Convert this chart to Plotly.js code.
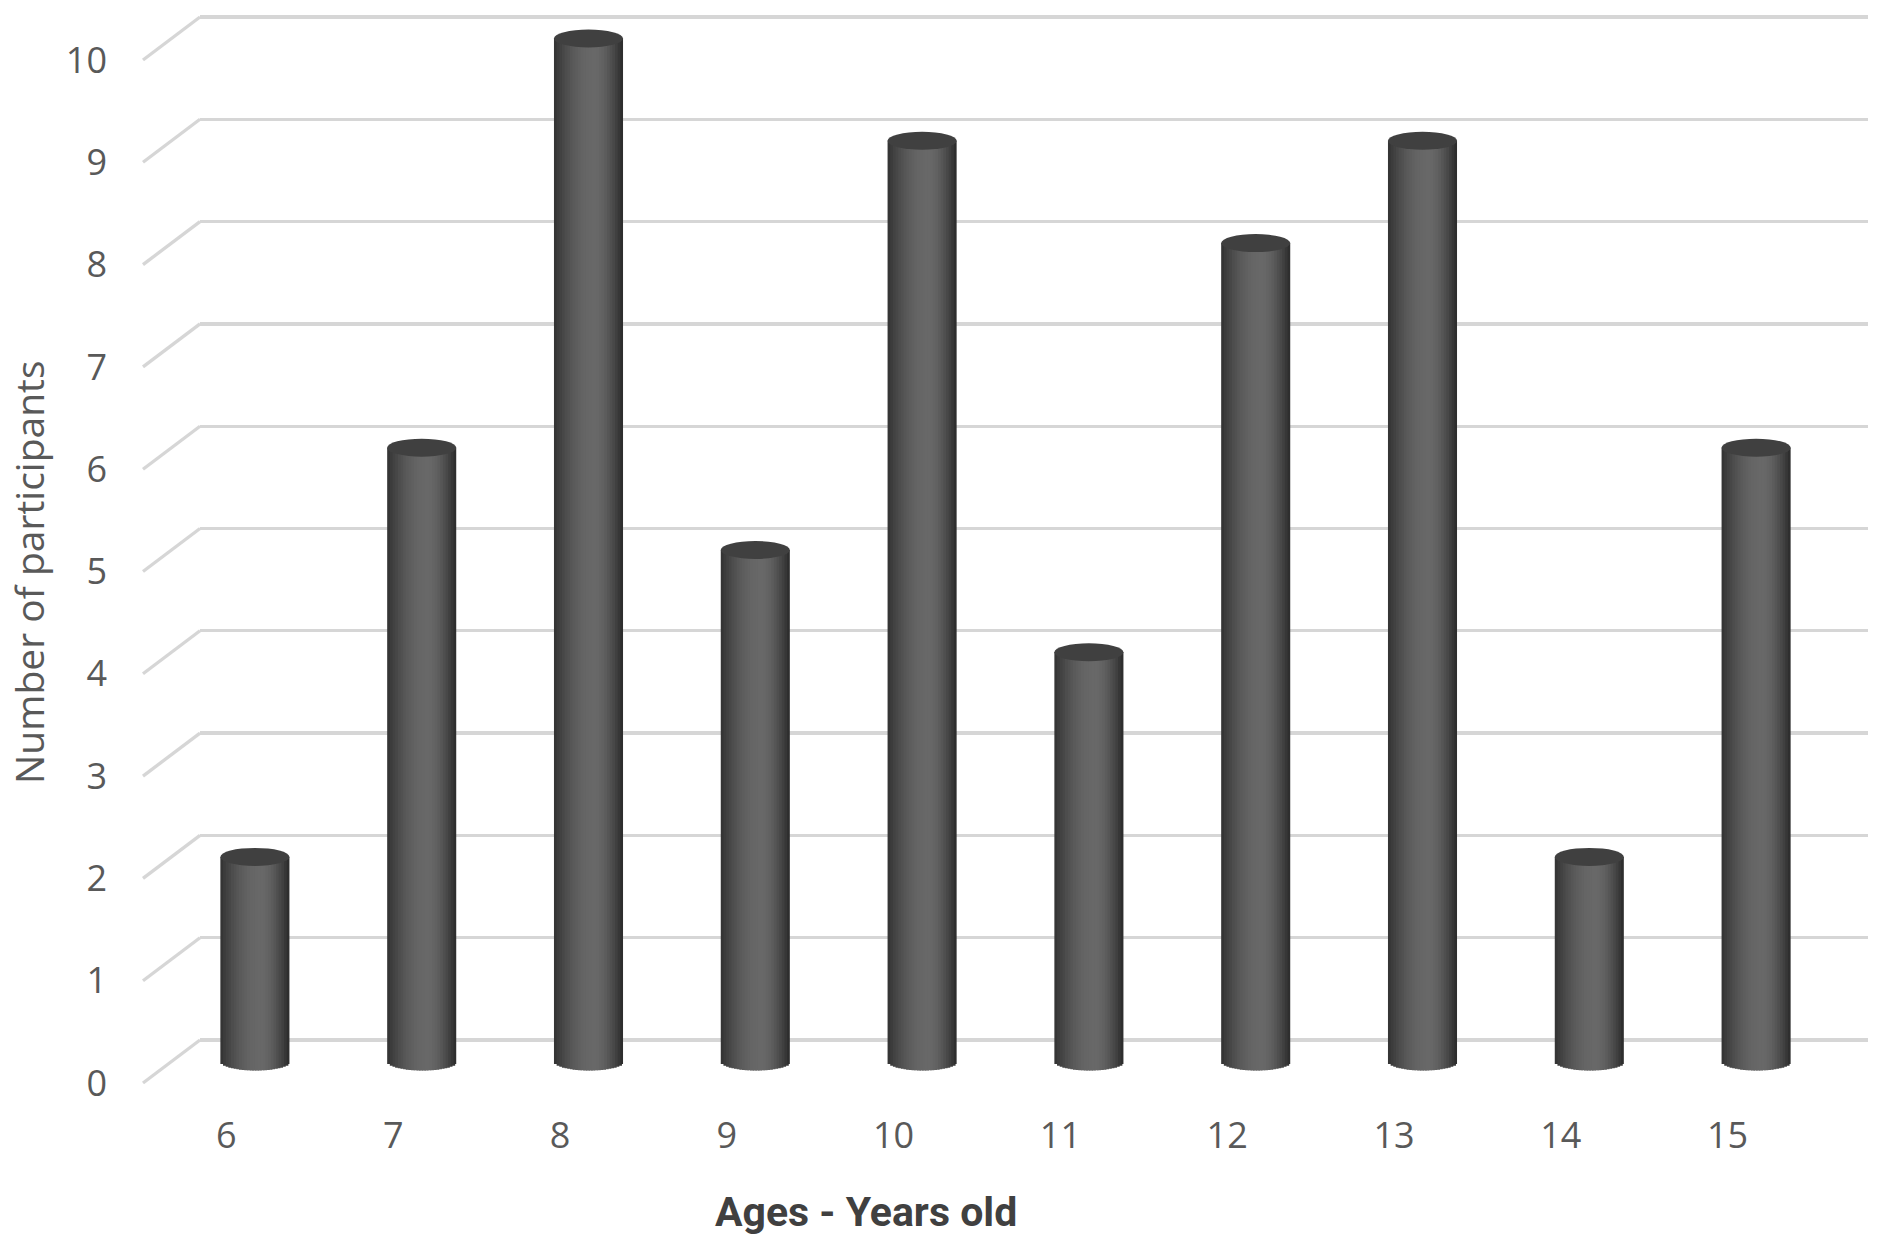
<!DOCTYPE html>
<html>
<head>
<meta charset="utf-8">
<script src="https://cdn.plot.ly/plotly-3.0.1.min.js"></script>
<style>
  html, body { margin: 0; padding: 0; background: #ffffff; }
  #chart { width: 1880px; height: 1248px; }
</style>
</head>
<body>
<div id="chart"></div>
<script>
// ---------------- data ----------------
const ages = ['6', '7', '8', '9', '10', '11', '12', '13', '14', '15'];
const participants = [2, 6, 10, 5, 9, 4, 8, 9, 2, 6];
const yTicks = [0, 1, 2, 3, 4, 5, 6, 7, 8, 9, 10];
const xTitle = 'Ages - Years old';
const yTitle = 'Number of participants';

// ---------------- geometry / style ----------------
const W = 1880, H = 1248;
const fx = p => p / W;
const fy = p => 1 - p / H;

const yRange = [-0.3, 10.35];
const unitPx = 102.3;         // pixels per unit
const zeroPx = 1061.5;        // pixel row of value 0 at mid-depth
const yBotPx = zeroPx - yRange[0] * unitPx;
const yTopPx = zeroPx - yRange[1] * unitPx;
const yDomain = [fy(yBotPx), fy(yTopPx)];
const depth = 21.5 / unitPx;  // half depth offset in value units

const barW = 0.414;           // cylinder width in category units
const capE = 0.088;           // ellipse semi-axis in value units
const N = 26;                 // shading strips
const stripW = barW / N;

function shade(t) {
  const hi = 0x68, peak = 0.58;
  let f;
  if (t < peak) f = Math.pow(Math.sin(Math.PI / 2 * t / peak), 0.85);
  else f = Math.cos(Math.PI / 2 * (t - peak) / (1 - peak));
  const lo2 = t < peak ? 0x30 : 0x2a;
  const v = Math.round(lo2 + (hi - lo2) * f);
  return 'rgb(' + v + ',' + v + ',' + v + ')';
}

const traces = [];
// dummy trace for back-wall grid subplot
traces.push({
  type: 'scatter', x: [0.5], y: [0], xaxis: 'x', yaxis: 'y',
  mode: 'markers', marker: { opacity: 0 }, hoverinfo: 'skip', showlegend: false
});
// cylinder strips
for (let k = 0; k < N; k++) {
  const t = (k + 0.5) / N;
  const u = 2 * t - 1;
  const b = -capE * Math.sqrt(Math.max(0, 1 - u * u));
  traces.push({
    type: 'bar',
    x: ages,
    y: participants.map(v => v - b),
    base: participants.map(() => b),
    offset: -barW / 2 + k * stripW,
    width: k < N - 1 ? stripW * 1.6 : stripW,
    marker: { color: shade(t), line: { width: 0 } },
    xaxis: 'x2', yaxis: 'y2',
    hoverinfo: k === Math.floor(N / 2) ? 'x+y' : 'skip',
    showlegend: false
  });
}
// dummy trace for front label axes
traces.push({
  type: 'scatter', x: ages, y: ages.map(() => 0), xaxis: 'x3', yaxis: 'y3',
  mode: 'markers', marker: { opacity: 0 }, hoverinfo: 'skip', showlegend: false
});

const shapes = [];
// side-wall diagonal grid lines
yTicks.forEach(v => {
  shapes.push({
    type: 'line', xref: 'paper', yref: 'y2', layer: 'below',
    x0: fx(200), y0: v + depth, x1: fx(143), y1: v - depth,
    line: { color: '#d6d6d6', width: 3.3 }
  });
});
// cylinder top caps
participants.forEach((v, i) => {
  shapes.push({
    type: 'circle', xref: 'x2', yref: 'y2', layer: 'above',
    x0: i - barW / 2, x1: i + barW / 2, y0: v - capE, y1: v + capE,
    fillcolor: '#404040', line: { width: 0 }
  });
});

const tickFont = { family: 'Open Sans, Noto Sans, sans-serif', size: 36, color: '#595959' };

const layout = {
  width: W, height: H,
  margin: { l: 0, r: 0, t: 0, b: 0, pad: 0 },
  paper_bgcolor: '#ffffff', plot_bgcolor: 'rgba(0,0,0,0)',
  barmode: 'overlay',
  showlegend: false,
  // back wall (grid)
  xaxis: { domain: [fx(200), fx(1868)], range: [0, 1], anchor: 'y',
           showgrid: false, zeroline: false, showticklabels: false, ticks: '', showline: false, fixedrange: true },
  yaxis: { domain: yDomain, range: [yRange[0] - depth, yRange[1] - depth], anchor: 'x',
           tickvals: yTicks, showgrid: true, gridcolor: '#d6d6d6', gridwidth: 3.3,
           zeroline: false, showticklabels: false, ticks: '', showline: false, fixedrange: true },
  // cylinders (mid depth)
  xaxis2: { domain: [fx(171.5), fx(1839.5)], type: 'category', categoryorder: 'array', categoryarray: ages,
            range: [-0.5, 9.5], anchor: 'y2',
            showgrid: false, zeroline: false, showticklabels: false, ticks: '', showline: false, fixedrange: true },
  yaxis2: { domain: yDomain, range: yRange, anchor: 'x2',
            showgrid: false, zeroline: false, showticklabels: false, ticks: '', showline: false, fixedrange: true },
  // front labels
  xaxis3: { domain: [fx(143), fx(1811)], type: 'category', categoryorder: 'array', categoryarray: ages,
            range: [-0.5, 9.5], anchor: 'free', position: fy(1111),
            showgrid: false, zeroline: false, ticks: '', showline: false, tickfont: tickFont, fixedrange: true },
  yaxis3: { domain: yDomain, range: [yRange[0] + depth, yRange[1] + depth], anchor: 'free', position: fx(107),
            tickvals: yTicks, ticktext: yTicks.map(String),
            showgrid: false, zeroline: false, ticks: '', showline: false, tickfont: tickFont, fixedrange: true },
  shapes: shapes,
  annotations: [
    { text: yTitle, xref: 'paper', yref: 'paper', x: fx(29), y: fy(572), textangle: -90,
      showarrow: false, xanchor: 'center', yanchor: 'middle', borderpad: 0,
      font: { family: 'Open Sans, Noto Sans, sans-serif', size: 39, color: '#595959' } },
    { text: xTitle, xref: 'paper', yref: 'paper', x: fx(866), y: fy(1212),
      showarrow: false, xanchor: 'center', yanchor: 'middle',
      font: { family: 'Roboto, sans-serif', size: 41, color: '#404040', weight: 'bold' } }
  ]
};

Plotly.newPlot('chart', traces, layout, { staticPlot: true, displayModeBar: false });
</script>
</body>
</html>
